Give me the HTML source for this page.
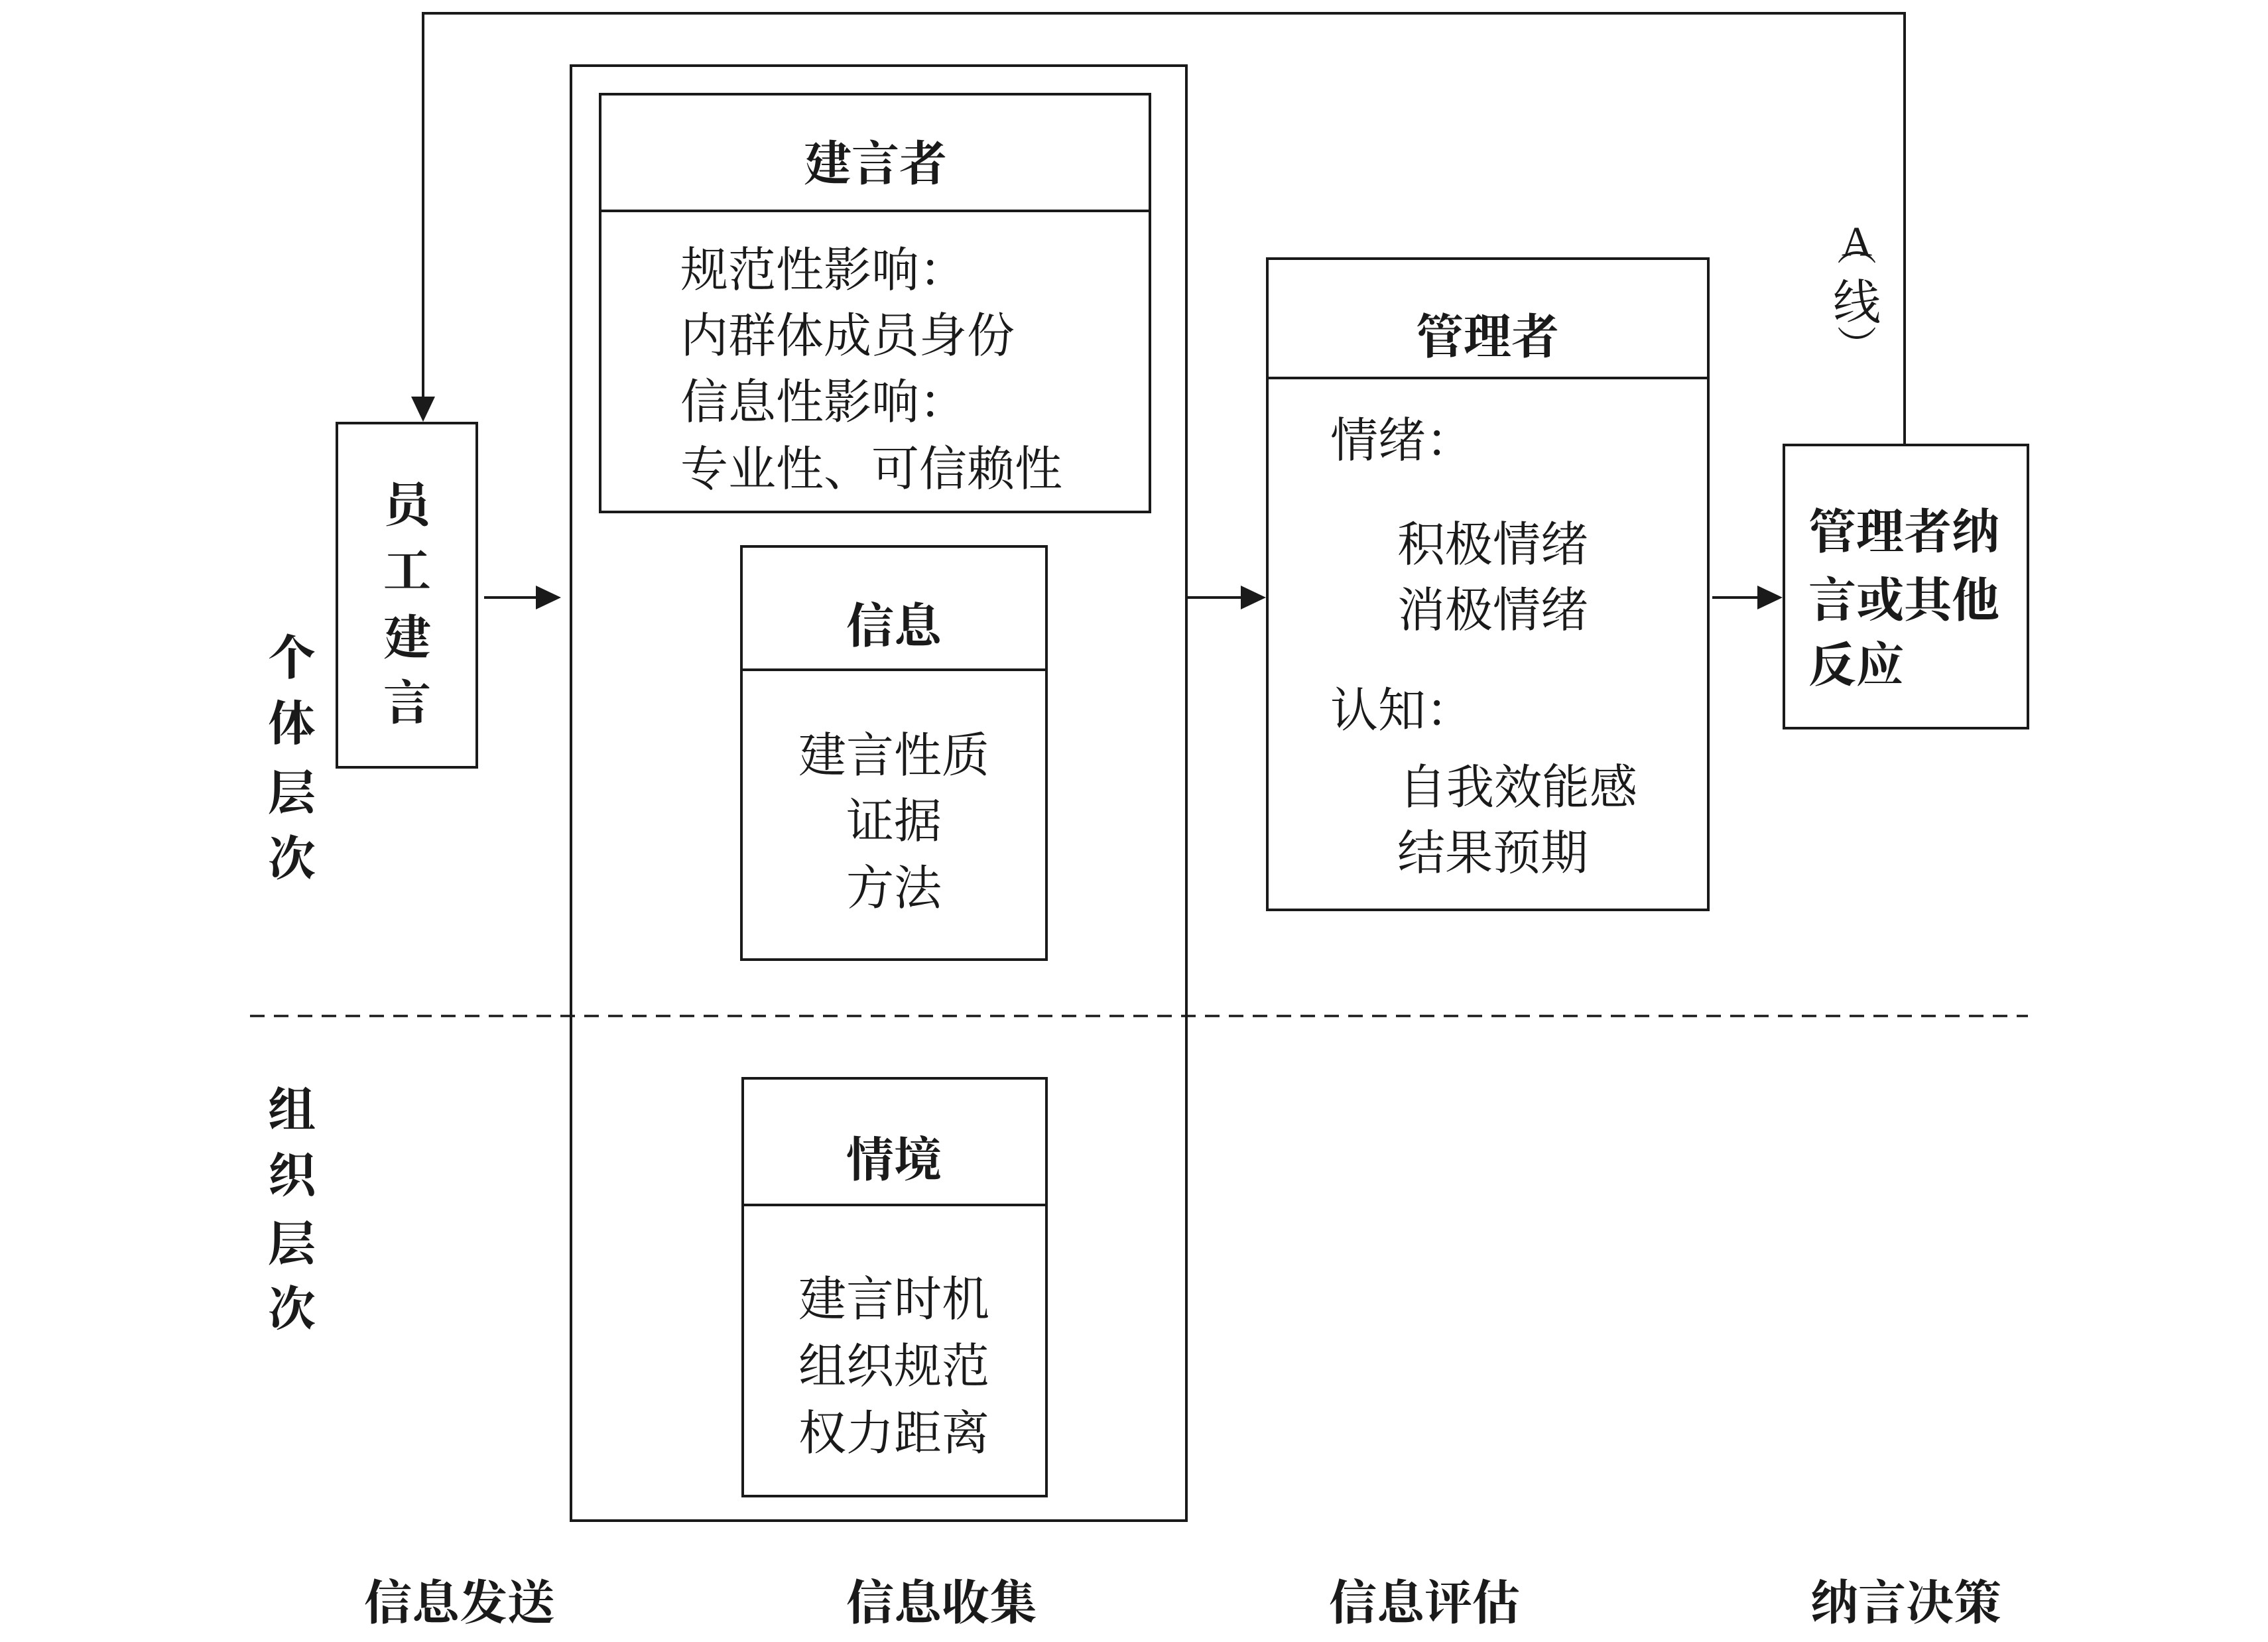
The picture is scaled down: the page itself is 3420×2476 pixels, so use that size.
<!DOCTYPE html>
<html><head><meta charset="utf-8"><style>html,body{margin:0;padding:0;background:#fff}svg{display:block}</style></head>
<body>
<svg width="3420" height="2476" viewBox="0 0 3420 2476" xmlns="http://www.w3.org/2000/svg" font-family="'Noto Serif CJK SC','Liberation Serif',serif" fill="#1a1a1a">
<defs><marker id="ar" markerWidth="10" markerHeight="10" refX="9" refY="5" orient="auto" markerUnits="userSpaceOnUse" viewBox="0 0 10 10"><path d="M0,0 L10,5 L0,10 z" fill="#1a1a1a"/></marker></defs>
<g stroke="#1a1a1a" stroke-width="4" fill="none">
<polyline points="2872,671 2872,20 638,20 638,600"/>
<path d="M620,598 L656,598 L638,636 z" fill="#1a1a1a" stroke="none"/>
<rect x="508" y="638" width="211" height="519"/>
<line x1="730" y1="901" x2="812" y2="901"/>
<rect x="861" y="99" width="928" height="2194"/>
<rect x="905" y="142" width="829" height="630"/>
<line x1="905" y1="318" x2="1734" y2="318"/>
<rect x="1118" y="824" width="460" height="623"/>
<line x1="1118" y1="1010" x2="1578" y2="1010"/>
<rect x="1120" y="1626" width="458" height="630"/>
<line x1="1120" y1="1817" x2="1578" y2="1817"/>
<line x1="1789" y1="901" x2="1873" y2="901"/>
<rect x="1911" y="390" width="665" height="982"/>
<line x1="1911" y1="570" x2="2576" y2="570"/>
<line x1="2582" y1="901" x2="2652" y2="901"/>
<rect x="2690" y="671" width="368" height="427"/>
<line x1="377" y1="1532" x2="3058" y2="1532" stroke-dasharray="22,14" stroke-width="3.5"/>
</g>
<path d="M808,883 L846,901 L808,919 z"/>
<path d="M1871,883 L1909,901 L1871,919 z"/>
<path d="M2650,883 L2688,901 L2650,919 z"/>
<g font-size="72" dominant-baseline="central">
<g font-weight="bold" text-anchor="middle">
<text x="614" y="756">员</text><text x="614" y="855">工</text><text x="614" y="956">建</text><text x="614" y="1054">言</text>
<text x="440" y="986">个</text><text x="440" y="1085">体</text><text x="440" y="1190">层</text><text x="440" y="1289">次</text>
<text x="440" y="1668">组</text><text x="440" y="1767">织</text><text x="440" y="1870">层</text><text x="440" y="1968">次</text>
<text x="1320" y="241">建言者</text>
<text x="1348" y="938">信息</text>
<text x="1348" y="1743">情境</text>
<text x="2243" y="502">管理者</text>
<text x="693" y="2411">信息发送</text>
<text x="1420" y="2411">信息收集</text>
<text x="2148" y="2411">信息评估</text>
<text x="2874" y="2411">纳言决策</text>
</g>
<g font-weight="bold">
<text x="2727" y="796">管理者纳</text>
<text x="2727" y="899">言或其他</text>
<text x="2727" y="997">反应</text>
</g>
<text x="1026" y="401">规范性影响：</text>
<text x="1026" y="500">内群体成员身份</text>
<text x="1026" y="600">信息性影响：</text>
<text x="1026" y="701">专业性、可信赖性</text>
<g text-anchor="middle">
<text x="1348" y="1133">建言性质</text>
<text x="1348" y="1232">证据</text>
<text x="1348" y="1333">方法</text>
<text x="1348" y="1953">建言时机</text>
<text x="1348" y="2054">组织规范</text>
<text x="1348" y="2155">权力距离</text>
<text x="2800" y="368" font-size="60">︵</text>
<text x="2800" y="364" font-size="64" font-family="'Liberation Serif',serif">A</text>
<text x="2800" y="450">线</text>
<text x="2800" y="518" font-size="60">︶</text>
</g>
<text x="2006" y="658">情绪：</text>
<text x="2107" y="815">积极情绪</text>
<text x="2107" y="914">消极情绪</text>
<text x="2006" y="1065">认知：</text>
<text x="2109" y="1181">自我效能感</text>
<text x="2107" y="1280">结果预期</text>
</g>
</svg>
</body></html>
